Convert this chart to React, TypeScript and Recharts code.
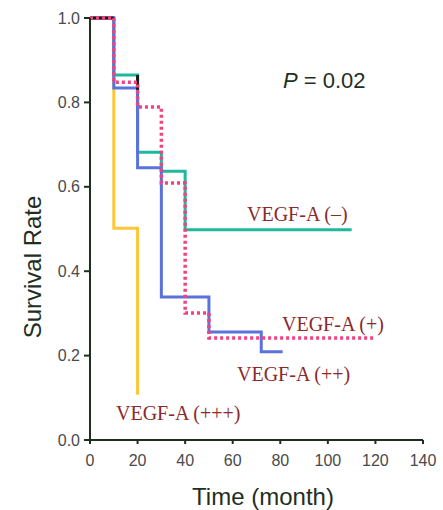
import React from "react";
import { LineChart, Line, XAxis, YAxis } from "recharts";

// Kaplan-Meier step data (time in months, survival rate)
const negTimes = [0, 10, 20, 30, 40, 110];
const negSurv = [1.0, 0.865, 0.682, 0.637, 0.498, 0.498];

const plusTimes = [0, 10, 20, 30, 40, 50, 120];
const plusSurv = [1.0, 0.848, 0.789, 0.609, 0.301, 0.242, 0.242];

const plus2Times = [0, 10, 20, 30, 50, 72, 81];
const plus2Surv = [1.0, 0.834, 0.645, 0.339, 0.256, 0.209, 0.209];

const plus3Times = [0, 10, 20];
const plus3Surv = [1.0, 0.502, 0.107];

const allTopTimes = [0, 10];
const allTopSurv = [1.0, 1.0];
const allDropTimes = [20, 20];
const allDropSurv = [0.865, 0.83];

const xTicks = [0, 20, 40, 60, 80, 100, 120, 140];
const yTicks = [0, 0.2, 0.4, 0.6, 0.8, 1.0];

const toData = (t: number[], v: number[]) => t.map((x, i) => ({ t: x, v: v[i] }));

const W = 443;
const H = 510;
const AXIS = "#1f2f1f";
const LABEL = "#8b2a2a";

export default function App() {
  return (
    <div style={{ position: "absolute", left: 0, top: 0, width: W, height: H }}>
      <LineChart
        width={W}
        height={H}
        margin={{ top: 18, right: 20, left: 40, bottom: 40 }}
      >
        <XAxis
          type="number"
          dataKey="t"
          domain={[0, 140]}
          ticks={xTicks}
          allowDataOverflow
          height={30}
          tickSize={4}
          tickMargin={11}
          axisLine={{ stroke: AXIS, strokeWidth: 2 }}
          tickLine={{ stroke: AXIS, strokeWidth: 2 }}
          tick={{ fill: "#4a4a4a", fontSize: 16, fontFamily: "Liberation Sans, Arial, sans-serif" }}
        />
        <YAxis
          type="number"
          domain={[0, 1]}
          ticks={yTicks}
          width={50}
          tickSize={6}
          tickMargin={4}
          tickFormatter={(v: number) => v.toFixed(1)}
          axisLine={{ stroke: AXIS, strokeWidth: 2 }}
          tickLine={{ stroke: AXIS, strokeWidth: 2 }}
          tick={{ fill: "#4a4a4a", fontSize: 16, fontFamily: "Liberation Sans, Arial, sans-serif" }}
        />
        <Line
          data={toData(plus3Times, plus3Surv)}
          dataKey="v"
          type="stepAfter"
          stroke="#ffc638"
          strokeWidth={3}
          dot={false}
          isAnimationActive={false}
        />
        <Line
          data={toData(negTimes, negSurv)}
          dataKey="v"
          type="stepAfter"
          stroke="#1fb89c"
          strokeWidth={3}
          dot={false}
          isAnimationActive={false}
        />
        <Line
          data={toData(plus2Times, plus2Surv)}
          dataKey="v"
          type="stepAfter"
          stroke="#5b72dc"
          strokeWidth={3}
          dot={false}
          isAnimationActive={false}
        />
        <Line
          data={toData(allTopTimes, allTopSurv)}
          dataKey="v"
          type="stepAfter"
          stroke="#1a1a1a"
          strokeWidth={3}
          dot={false}
          isAnimationActive={false}
        />
        <Line
          data={toData(allDropTimes, allDropSurv)}
          dataKey="v"
          type="stepAfter"
          stroke="#1a1a1a"
          strokeWidth={3}
          dot={false}
          isAnimationActive={false}
        />
        <Line
          data={toData(plusTimes, plusSurv)}
          dataKey="v"
          type="stepAfter"
          stroke="#f5407c"
          strokeWidth={3.5}
          strokeDasharray="3 3"
          dot={false}
          isAnimationActive={false}
        />
      </LineChart>
      <svg
        width={W}
        height={H}
        style={{ position: "absolute", left: 0, top: 0, pointerEvents: "none" }}
      >
        <text
          x={263}
          y={505}
          textAnchor="middle"
          fontSize={24}
          fill={AXIS}
          fontFamily="Liberation Sans, Arial, sans-serif"
        >
          Time (month)
        </text>
        <text
          x={41}
          y={267}
          textAnchor="middle"
          fontSize={24}
          fill={AXIS}
          fontFamily="Liberation Sans, Arial, sans-serif"
          transform="rotate(-90 41 267)"
        >
          Survival Rate
        </text>
        <text x={283} y={88} fontSize={22} fill="#1f2f1f" fontFamily="Liberation Sans, Arial, sans-serif">
          <tspan fontStyle="italic">P</tspan> = 0.02
        </text>
        <g fontFamily="Liberation Serif, Times New Roman, serif" fontSize={20} fill={LABEL}>
          <text x={247} y={221}>VEGF-A (–)</text>
          <text x={282} y={331}>VEGF-A (+)</text>
          <text x={237} y={381}>VEGF-A (++)</text>
          <text x={116} y={420}>VEGF-A (+++)</text>
        </g>
      </svg>
    </div>
  );
}
